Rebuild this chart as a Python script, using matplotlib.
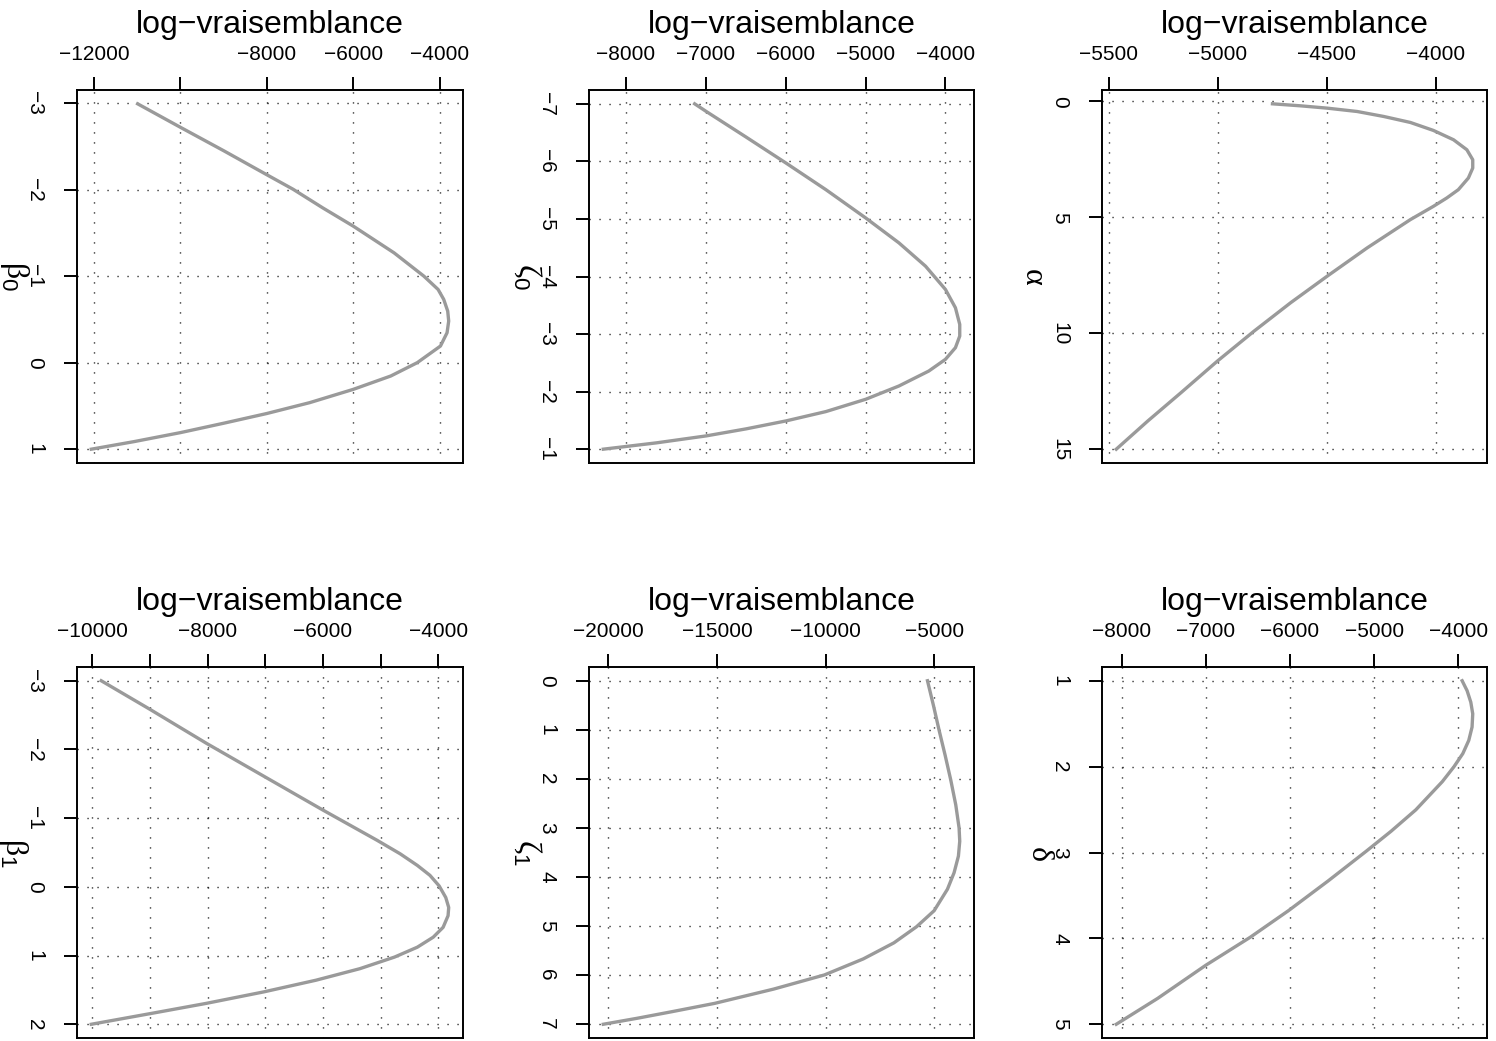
import matplotlib
matplotlib.use("Agg")
import matplotlib.pyplot as plt
from matplotlib.transforms import offset_copy

plt.rcParams["font.family"] = ["Liberation Sans", "DejaVu Sans"]
plt.rcParams["mathtext.fontset"] = "custom"
plt.rcParams["mathtext.rm"] = "Liberation Serif"
plt.rcParams["mathtext.sf"] = "Liberation Sans"
plt.rcParams["lines.scale_dashes"] = False

# Profils de log-vraisemblance
beta0_val = [-2.992, -2.719, -2.450, -2.173, -2.004, -1.788, -1.577, -1.269, -1.0,
             -0.846, -0.731, -0.596, -0.481, -0.346, -0.192, -0.096, 0.0, 0.154,
             0.308, 0.462, 0.588, 0.70, 0.808, 0.912, 1.0]
beta0_ll = [-10990, -9995, -9001, -8006, -7394, -6706, -6001, -5060, -4372,
            -4043, -3913, -3821, -3798, -3836, -3989, -4257, -4525, -5137,
            -6001, -7011, -8006, -9001, -9995, -11067, -12061]

zeta0_val = [-7.0, -6.867, -6.422, -5.971, -5.509, -5.017, -4.584, -4.179, -3.775,
             -3.457, -3.168, -2.965, -2.763, -2.561, -2.358, -2.098, -1.867,
             -1.653, -1.491, -1.353, -1.231, -1.110, -1.0]
zeta0_ll = [-7139, -6994, -6495, -5996, -5497, -4998, -4582, -4249, -4000,
            -3875, -3821, -3821, -3875, -4000, -4208, -4582, -4998,
            -5497, -5996, -6495, -6994, -7617, -8283]

alpha_val = [0.1, 0.187, 0.287, 0.431, 0.646, 0.904, 1.249, 1.651, 2.081, 2.512,
             2.871, 3.301, 3.804, 4.162, 4.521, 5.096, 6.316, 7.535, 8.684, 9.904,
             11.196, 12.56, 13.78, 15.0]
alpha_ll = [-4749, -4620, -4498, -4361, -4239, -4117, -4011, -3919, -3858, -3831,
            -3831, -3851, -3897, -3950, -4011, -4117, -4315, -4498, -4666, -4833,
            -5001, -5168, -5320, -5465]

beta1_val = [-3.0, -2.591, -2.085, -1.603, -1.121, -0.678, -0.481, -0.312, -0.168,
             -0.014, 0.155, 0.30, 0.420, 0.589, 0.733, 0.878, 1.022, 1.191, 1.359,
             1.528, 1.696, 1.841, 2.0]
beta1_ll = [-9845, -9014, -8011, -7009, -6006, -5060, -4659, -4361, -4143,
            -3983, -3868, -3817, -3828, -3914, -4086, -4361, -4756, -5358, -6120,
            -7020, -8023, -8968, -10017]

zeta1_val = [0.0, 0.506, 1.011, 1.517, 2.023, 2.529, 3.0, 3.27, 3.574, 3.911,
             4.248, 4.686, 5.013, 5.341, 5.668, 5.995, 6.284, 6.574, 6.743, 6.878,
             7.0]
zeta1_ll = [-5306, -5030, -4770, -4494, -4234, -4004, -3851, -3821, -3882, -4081,
            -4387, -5000, -5810, -6852, -8260, -10050, -12393, -15102, -17061,
            -18668, -20230]

delta_val = [1.0, 1.116, 1.25, 1.385, 1.539, 1.694, 1.848, 2.002, 2.175, 2.503,
             2.753, 2.985, 3.331, 3.678, 3.986, 4.314, 4.699, 5.0]
delta_ll = [-3953, -3894, -3850, -3827, -3835, -3874, -3945, -4051, -4189, -4504,
            -4799, -5094, -5547, -6020, -6472, -7004, -7575, -8067]

# Graduations
beta0_xticks = [-12000, -10000, -8000, -6000, -4000]
beta0_xlabels = ["−12000", "", "−8000", "−6000", "−4000"]
beta0_yticks = [-3, -2, -1, 0, 1]
zeta0_xticks = [-8000, -7000, -6000, -5000, -4000]
zeta0_xlabels = ["−8000", "−7000", "−6000", "−5000", "−4000"]
zeta0_yticks = [-7, -6, -5, -4, -3, -2, -1]
alpha_xticks = [-5500, -5000, -4500, -4000]
alpha_xlabels = ["−5500", "−5000", "−4500", "−4000"]
alpha_yticks = [0, 5, 10, 15]
beta1_xticks = [-10000, -9000, -8000, -7000, -6000, -5000, -4000]
beta1_xlabels = ["−10000", "", "−8000", "", "−6000", "", "−4000"]
beta1_yticks = [-3, -2, -1, 0, 1, 2]
zeta1_xticks = [-20000, -15000, -10000, -5000]
zeta1_xlabels = ["−20000", "−15000", "−10000", "−5000"]
zeta1_yticks = [0, 1, 2, 3, 4, 5, 6, 7]
delta_xticks = [-8000, -7000, -6000, -5000, -4000]
delta_xlabels = ["−8000", "−7000", "−6000", "−5000", "−4000"]
delta_yticks = [1, 2, 3, 4, 5]

W, H = 1496, 1041
fig = plt.figure(figsize=(W / 100, H / 100), dpi=100)


def panel(box, xv, yv, xticks, xlabels, yticks, label, lab_off):
    left, top, right, bottom = box
    ax = fig.add_axes([left / W, 1 - bottom / H, (right - left) / W, (bottom - top) / H])
    ax.plot(xv, yv, color="#9a9a9a", lw=2.4, solid_joinstyle="round", zorder=3)
    ax.margins(x=0.04, y=0.04)
    ax.invert_yaxis()
    ax.set_xticks(xticks)
    ax.set_xticklabels(xlabels)
    ax.set_yticks(yticks)
    ax.set_yticklabels(["−" + str(-t) if t < 0 else str(t) for t in yticks],
                       rotation=-90, va="center", ha="right")
    ax.xaxis.tick_top()
    ax.tick_params(axis="x", length=9.5, width=1.4, pad=9, labelsize=15)
    ax.tick_params(axis="y", length=9.5, width=1.4, pad=14, labelsize=15)
    for sp in ax.spines.values():
        sp.set_linewidth(1.4)
    # grille pointillee
    for t in xticks:
        ax.axvline(t, color="black", lw=1.0, dashes=(0.8, 6.4), zorder=1)
    for t in yticks:
        ax.axhline(t, color="black", lw=1.0, dashes=(0.8, 6.4), zorder=1)
    ax.text(0.5, 1, "log−vraisemblance", fontsize=23, ha="center", va="baseline",
            transform=offset_copy(ax.transAxes, fig=fig, y=41, units="points"))
    ax.text(0, 0.5, label, fontsize=23, rotation=-90, ha="center", va="center",
            transform=offset_copy(ax.transAxes, fig=fig, x=-lab_off * 0.72, units="points"))
    return ax


panel((77, 90, 463, 463), beta0_ll, beta0_val, beta0_xticks, beta0_xlabels, beta0_yticks,
      r"$\mathrm{\beta}_{\mathsf{0}}$", 63)
panel((589, 90, 974, 463), zeta0_ll, zeta0_val, zeta0_xticks, zeta0_xlabels, zeta0_yticks,
      r"$\mathrm{\zeta}_{\mathsf{0}}$", 61)
panel((1102, 90, 1487, 463), alpha_ll, alpha_val, alpha_xticks, alpha_xlabels, alpha_yticks,
      r"$\mathrm{\alpha}$", 68)
panel((77, 667, 463, 1038), beta1_ll, beta1_val, beta1_xticks, beta1_xlabels, beta1_yticks,
      r"$\mathrm{\beta}_{\mathsf{1}}$", 64)
panel((589, 667, 974, 1038), zeta1_ll, zeta1_val, zeta1_xticks, zeta1_xlabels, zeta1_yticks,
      r"$\mathrm{\zeta}_{\mathsf{1}}$", 61)
panel((1102, 667, 1487, 1038), delta_ll, delta_val, delta_xticks, delta_xlabels, delta_yticks,
      r"$\mathrm{\delta}$", 62)

fig.savefig("out.png", dpi=100)
